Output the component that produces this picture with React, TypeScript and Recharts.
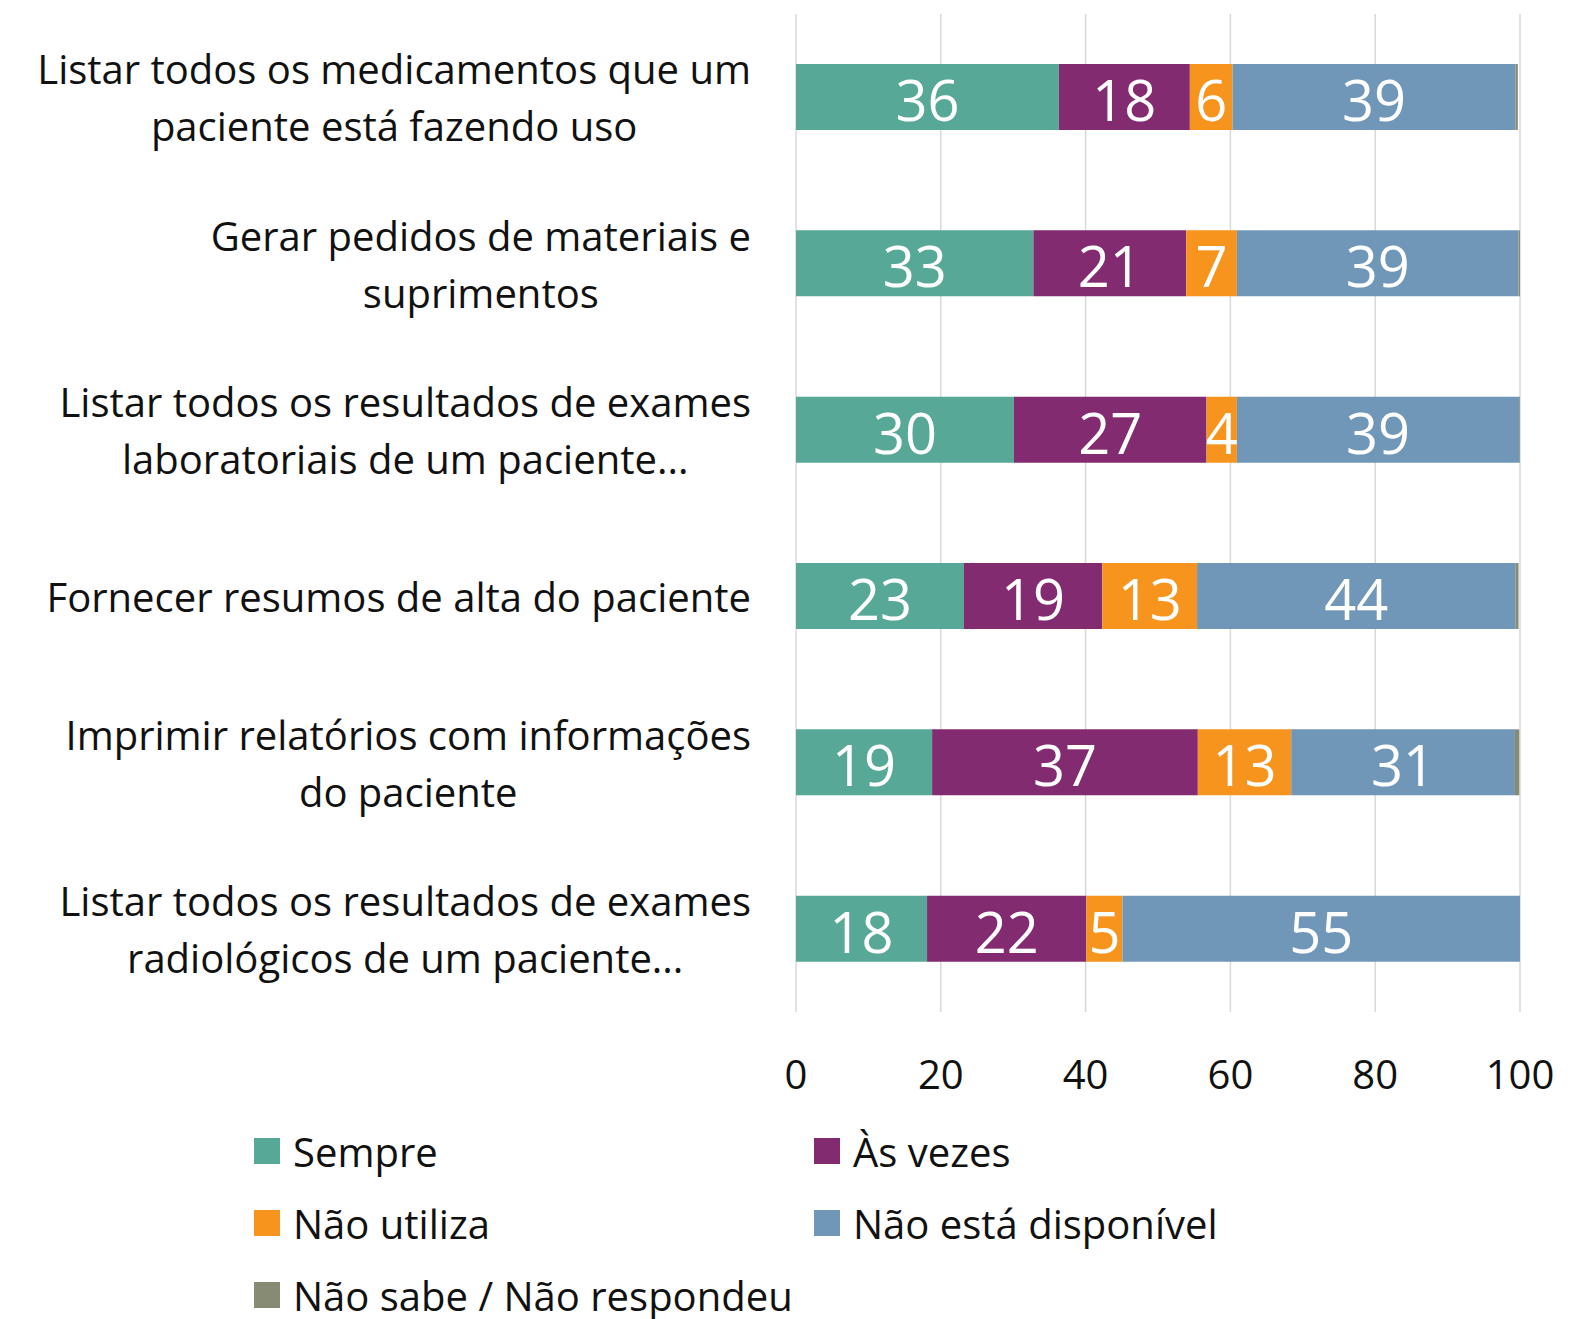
import React from 'react';
import {
  BarChart,
  Bar,
  XAxis,
  YAxis,
  CartesianGrid,
  LabelList,
  Legend
} from 'recharts';

if (typeof document !== 'undefined') document.body.style.margin = '0';

const CATEGORIES = [
  'Listar todos os medicamentos que um\npaciente está fazendo uso',
  'Gerar pedidos de materiais e\nsuprimentos',
  'Listar todos os resultados de exames\nlaboratoriais de um paciente...',
  'Fornecer resumos de alta do paciente',
  'Imprimir relatórios com informações\ndo paciente',
  'Listar todos os resultados de exames\nradiológicos de um paciente...'
];

const SEMPRE = [36.3, 32.8, 30.1, 23.2, 18.8, 18.1];
const AS_VEZES = [18.1, 21.1, 26.6, 19.1, 36.7, 22.0];
const NAO_UTILIZA = [5.9, 7.0, 4.2, 13.1, 12.9, 5.0];
const NAO_DISPONIVEL = [39.1, 38.9, 39.0, 44.0, 30.9, 54.9];
const NAO_SABE = [0.3, 0.2, 0.1, 0.4, 0.6, 0.0];

const X_TICKS = [0, 20, 40, 60, 80, 100];

const SERIES = [
  { key: 'sempre', name: 'Sempre', color: '#57A896', label: true },
  { key: 'asVezes', name: 'Às vezes', color: '#832B70', label: true },
  { key: 'naoUtiliza', name: 'Não utiliza', color: '#F7941E', label: true },
  { key: 'naoDisponivel', name: 'Não está disponível', color: '#7097B8', label: true },
  { key: 'naoSabe', name: 'Não sabe / Não respondeu', color: '#888B73', label: false }
];

const data = CATEGORIES.map((name, i) => ({
  name,
  sempre: SEMPRE[i],
  asVezes: AS_VEZES[i],
  naoUtiliza: NAO_UTILIZA[i],
  naoDisponivel: NAO_DISPONIVEL[i],
  naoSabe: NAO_SABE[i]
}));

const FONT = '"Open Sans", "Noto Sans", sans-serif';
const TEXT = '#111111';

let ctx: CanvasRenderingContext2D | null = null;
const measure = (s: string, size: number) => {
  if (!ctx) ctx = document.createElement('canvas').getContext('2d');
  if (!ctx) return s.length * size * 0.5;
  ctx.font = `${size}px "Open Sans"`;
  return ctx.measureText(s).width;
};

const CategoryTick = ({ x, y, payload }: any) => {
  const size = 40;
  const lh = 57;
  const lines = String(payload.value).split('\n');
  const w = Math.max(...lines.map((l) => measure(l, size)));
  const cx = x - w / 2;
  const y0 = y - ((lines.length - 1) * lh) / 2;
  return (
    <text textAnchor="middle" fontFamily={FONT} fontSize={size} fill={TEXT}>
      {lines.map((l, i) => (
        <tspan key={i} x={cx} y={y0 + i * lh} dominantBaseline="central">
          {l}
        </tspan>
      ))}
    </text>
  );
};

const LegendContent = ({ payload }: any) => {
  const order = SERIES.map((s) => s.name);
  const items = [...(payload || [])].sort(
    (a: any, b: any) => order.indexOf(a.value) - order.indexOf(b.value)
  );
  return (
    <div style={{ position: 'relative', width: 0, height: 0 }}>
      {items.map((p: any, i: number) => (
        <div
          key={p.value}
          style={{
            position: 'absolute',
            left: i % 2 === 0 ? 254 : 814,
            top: 1152 + Math.floor(i / 2) * 72 - 27,
            height: 52,
            display: 'flex',
            alignItems: 'center',
            whiteSpace: 'nowrap',
            fontFamily: FONT,
            fontSize: 40,
            color: TEXT
          }}
        >
          <span style={{ width: 26, height: 26, background: p.color, marginRight: 13 }} />
          {p.value}
        </div>
      ))}
    </div>
  );
};

export default function App() {
  return (
    <div style={{ width: 1595, height: 1319, background: '#fff' }}>
      <BarChart
        width={1595}
        height={1319}
        data={data}
        layout="vertical"
        margin={{ top: 14, right: 75, left: 0, bottom: 207 }}
        barSize={66}
      >
        <CartesianGrid horizontal={false} stroke="#d9d9d9" strokeWidth={1.5} />
        <XAxis
          type="number"
          domain={[0, 100]}
          ticks={X_TICKS}
          axisLine={false}
          tickLine={false}
          tickMargin={43}
          height={100}
          tick={{ fontSize: 40, fill: TEXT, fontFamily: FONT }}
        />
        <YAxis
          type="category"
          dataKey="name"
          width={796}
          axisLine={false}
          tickLine={false}
          tickMargin={39}
          tick={<CategoryTick />}
        />
        <Legend
          content={<LegendContent />}
          wrapperStyle={{ position: 'absolute', left: 0, top: 0, width: 0, height: 0 }}
        />
        {SERIES.map((s) => (
          <Bar
            key={s.key}
            dataKey={s.key}
            name={s.name}
            stackId="a"
            fill={s.color}
            isAnimationActive={false}
          >
            {s.label && (
              <LabelList
                dataKey={s.key}
                position="center"
                fill="#ffffff"
                fontSize={56}
                fontFamily={FONT}
                dy={4}
                formatter={(v: any) => Math.round(Number(v))}
              />
            )}
          </Bar>
        ))}
      </BarChart>
    </div>
  );
}
